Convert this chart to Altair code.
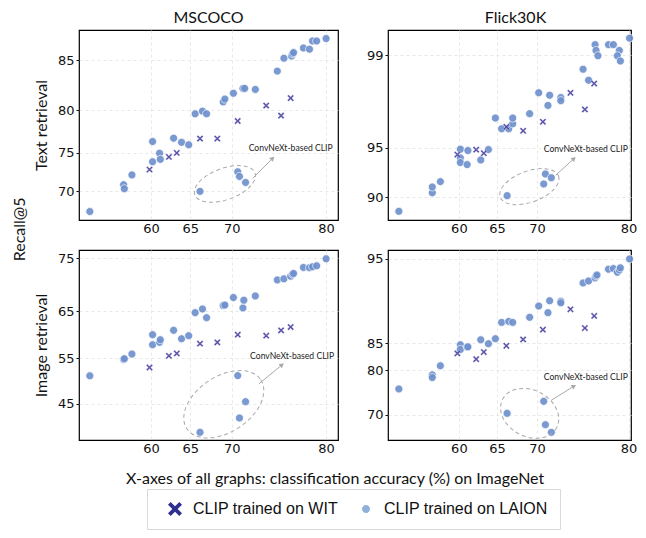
import altair as alt
import pandas as pd
from statistics import NormalDist

_nd = NormalDist()


def probit(pct):
    return _nd.inv_cdf(pct / 100.0)


# ---------------------------------------------------------------- data
SERIES = ["CLIP trained on WIT", "CLIP trained on LAION"]
COL_TITLES = ["MSCOCO", "Flick30K"]
ROW_TITLES = ["Text retrieval", "Image retrieval"]
X_TITLE = "X-axes of all graphs: classification accuracy (%) on ImageNet"
Y_TITLE = "Recall@5"
LABEL_TEXT = "ConvNeXt-based CLIP"

X_DOMAINS = [[50.45, 81.1], [50.3, 80.24]]          # left column, right column
X_TICKS = [60, 65, 70, 80]

# panel order: MSCOCO text, Flick30K text, MSCOCO image, Flick30K image
Y_DOMAINS = [[66.0, 87.6], [86.7, 99.40], [37.3, 76.45], [63.4, 95.6]]
Y_TICKS = [[70, 75, 80, 85], [90, 95, 99], [45, 55, 65, 75], [70, 80, 85, 95]]

WIT_X = [59.8, 62.3, 63.3, 66.2, 68.3, 70.7, 73.9, 75.5, 76.5]
WIT_Y_COCO_TEXT = [72.9, 74.5, 75.0, 76.75, 76.75, 78.8, 80.5, 79.4, 81.3]
WIT_Y_FLICKR_TEXT = [94.46, 94.85, 94.57, 96.4, 96.16, 96.68, 97.98, 97.3, 98.29]
WIT_Y_COCO_IMAGE = [52.98, 55.53, 56.04, 58.14, 58.43, 60.07, 59.86, 60.99, 61.69]
WIT_Y_FLICKR_IMAGE = [83.25, 82.19, 83.49, 84.58, 85.63, 87.16, 89.98, 87.41, 89.12]

LAION_X_COCO_TEXT = [51.9, 56.4, 56.5, 57.5, 60.2, 60.2, 61.1, 61.2, 62.9, 63.9, 64.8,
                     65.6, 66.5, 67.0, 66.2, 69.0, 69.2, 70.2, 71.3, 71.5, 72.7, 70.7,
                     70.9, 71.6, 75.1, 75.8, 76.6, 76.7, 76.8, 77.8, 78.4, 78.7, 79.1, 80.0]
LAION_Y_COCO_TEXT = [67.2, 70.9, 70.36, 72.2, 73.9, 76.4, 74.96, 74.2, 76.8, 76.3, 76.0,
                     79.6, 79.9, 79.6, 70.0, 80.9, 81.2, 81.8, 82.3, 82.3, 82.2, 72.6,
                     72.0, 71.2, 84.0, 85.2, 85.4, 85.6, 85.7, 86.1, 86.0, 86.7, 86.7, 86.9]

LAION_X_FLICKR_TEXT = [51.8, 56.4, 56.4, 57.5, 60.2, 60.2, 60.2, 61.1, 61.2, 62.9, 63.9,
                       64.8, 65.6, 66.5, 67.0, 67.0, 66.3, 69.1, 70.2, 71.3, 71.5, 72.8,
                       72.8, 70.8, 71.0, 71.7, 75.3, 75.9, 76.6, 76.7, 76.9, 78.0, 78.5,
                       79.1, 78.9, 79.2, 80.1]
LAION_Y_FLICKR_TEXT = [88.02, 90.55, 91.24, 91.85, 94.89, 94.18, 93.77, 93.58, 94.78, 94.0,
                       94.86, 96.88, 96.28, 96.28, 96.57, 96.88, 90.18, 97.1, 97.98, 97.48,
                       97.89, 97.8, 97.68, 91.58, 92.67, 92.27, 98.69, 98.39, 99.19, 99.09,
                       98.99, 99.19, 99.19, 99.09, 98.99, 98.88, 99.29]

LAION_X_COCO_IMAGE = [51.9, 56.4, 56.5, 57.5, 60.2, 60.2, 61.1, 61.2, 62.9, 63.9, 64.8,
                      65.6, 66.5, 67.0, 66.2, 69.0, 69.2, 70.2, 71.3, 71.4, 72.7, 70.7,
                      70.9, 71.6, 75.1, 75.8, 76.5, 76.7, 76.8, 77.8, 78.4, 78.7, 79.1, 80.0]
LAION_Y_COCO_IMAGE = [51.15, 54.74, 54.9, 55.9, 60.07, 57.93, 58.43, 59.0, 60.99, 59.2, 59.86,
                      64.67, 65.42, 63.64, 38.9, 66.1, 66.2, 67.7, 65.63, 67.17, 68.02, 51.2,
                      41.96, 45.5, 71.1, 71.3, 71.8, 72.17, 72.3, 73.4, 73.35, 73.52, 73.7, 74.94]

LAION_X_FLICKR_IMAGE = [51.8, 56.4, 56.4, 57.5, 60.2, 60.2, 61.1, 61.2, 62.9, 63.9, 64.8,
                        65.6, 66.5, 67.0, 66.3, 69.1, 70.2, 71.3, 71.5, 72.8, 72.8, 70.8,
                        71.0, 71.7, 75.3, 75.9, 76.6, 76.7, 76.8, 78.0, 78.5, 78.9, 79.1,
                        79.2, 80.1]
LAION_Y_FLICKR_IMAGE = [76.08, 79.1, 78.54, 80.93, 84.76, 83.94, 84.36, 84.4, 85.58, 84.93,
                        85.76, 88.23, 88.37, 88.23, 70.33, 88.93, 90.38, 89.55, 91.02, 90.95,
                        90.77, 73.24, 67.45, 65.44, 92.92, 93.11, 93.39, 93.57, 93.66, 94.16,
                        94.21, 93.9, 94.1, 94.27, 94.97]

WIT_Y = [WIT_Y_COCO_TEXT, WIT_Y_FLICKR_TEXT, WIT_Y_COCO_IMAGE, WIT_Y_FLICKR_IMAGE]
LAION_X = [LAION_X_COCO_TEXT, LAION_X_FLICKR_TEXT, LAION_X_COCO_IMAGE, LAION_X_FLICKR_IMAGE]
LAION_Y = [LAION_Y_COCO_TEXT, LAION_Y_FLICKR_TEXT, LAION_Y_COCO_IMAGE, LAION_Y_FLICKR_IMAGE]

# annotation anchors (data units: accuracy %, recall %)
ELLIPSE_CENTER = [[69.2, 71.0], [69.07, 91.28], [69.07, 44.93], [69.1, 70.33]]
ARROW_FROM = [[72.4, 71.74], [72.2, 92.53], [73.1, 49.39], [71.7, 73.5]]
ARROW_TO = [[74.6, 74.33], [74.3, 94.12], [75.6, 53.57], [74.3, 76.7]]
LABEL_AT = [[76.5, 75.6], [75.6, 94.89], [76.65, 55.39], [75.6, 78.6]]

# ---------------------------------------------------------------- styles
WIDTHS = [259, 243]
H = 190
WIT_FILL = "#4640a0"
LAION_FILL = "#6f91ce"
LEGEND_COLORS = ["#2f2f8f", "#8fb0d8"]
ANN_COLOR = "#a9a9a9"
# (semi-major px, semi-minor px, rotation deg) per panel
ELLIPSE_STYLE = [(32, 15.7, 340), (31, 15.5, 340), (44.3, 27.8, 326.5), (30.5, 23.2, 27.5)]
ARROW_HEAD_ANGLE = [45, 48, 50, 60]
FONT = "Lato"


def ellipse_path(r, s=1.0):
    k = 0.5523
    a, b = s, s * r
    pts = [a, 0, a, k * b, k * a, b, 0, b, -k * a, b, -a, k * b, -a, 0,
           -a, -k * b, -k * a, -b, 0, -b, k * a, -b, a, -k * b, a, 0]
    p = [f"{v:.4f}" for v in pts]
    return (f"M {p[0]} {p[1]} C {p[2]} {p[3]} {p[4]} {p[5]} {p[6]} {p[7]} "
            f"C {p[8]} {p[9]} {p[10]} {p[11]} {p[12]} {p[13]} "
            f"C {p[14]} {p[15]} {p[16]} {p[17]} {p[18]} {p[19]} "
            f"C {p[20]} {p[21]} {p[22]} {p[23]} {p[24]} {p[25]} Z")


X_PATH = ("M -1 -0.62 L -0.62 -1 L 0 -0.38 L 0.62 -1 L 1 -0.62 L 0.38 0 L 1 0.62 "
          "L 0.62 1 L 0 0.38 L -0.62 1 L -1 0.62 L -0.38 0 Z")
DOT_PATH = ellipse_path(1.0, 0.57)

LABEL_EXPR = "format(cumulativeNormal(datum.value) * 100, '.0f')"


def enc_x(col, field="px"):
    return alt.X(f"{field}:Q",
                 scale=alt.Scale(domain=[probit(v) for v in X_DOMAINS[col]], nice=False,
                                 zero=False),
                 axis=alt.Axis(values=[probit(v) for v in X_TICKS], labelExpr=LABEL_EXPR,
                               title=None))


def enc_y(i, ytitle, field="py"):
    return alt.Y(f"{field}:Q",
                 scale=alt.Scale(domain=[probit(v) for v in Y_DOMAINS[i]], nice=False, zero=False),
                 axis=alt.Axis(values=[probit(v) for v in Y_TICKS[i]], labelExpr=LABEL_EXPR,
                               title=ytitle))


def panel(i, ytitle=None, title=None, legend=False, title_dx=0):
    col = i % 2
    laion = pd.DataFrame({"acc": LAION_X[i], "recall": LAION_Y[i]})
    wit = pd.DataFrame({"acc": WIT_X, "recall": WIT_Y[i]})
    calc = dict(px="quantileNormal(datum.acc / 100)", py="quantileNormal(datum.recall / 100)")
    ex, ey = enc_x(col), enc_y(i, ytitle)

    laion_l = alt.Chart(laion).transform_calculate(**calc).mark_point(
        shape=DOT_PATH, filled=True, size=196, fill=LAION_FILL, opacity=0.92,
        stroke="white", strokeWidth=0.7).encode(x=ex, y=ey)
    wit_l = alt.Chart(wit).transform_calculate(**calc).mark_point(
        shape=X_PATH, filled=True, size=46, fill=WIT_FILL, opacity=0.9,
        stroke="white", strokeWidth=0.4).encode(x=ex, y=ey)

    a, b, ang = ELLIPSE_STYLE[i]
    ell = pd.DataFrame({"acc": [ELLIPSE_CENTER[i][0]], "recall": [ELLIPSE_CENTER[i][1]]})
    ell_l = alt.Chart(ell).transform_calculate(**calc).mark_point(
        shape=ellipse_path(b / a), size=(2 * a) ** 2, filled=False, stroke=ANN_COLOR,
        strokeWidth=1, strokeDash=[4, 3], angle=ang, opacity=1).encode(x=ex, y=ey)

    arr = pd.DataFrame({"acc": [ARROW_FROM[i][0]], "recall": [ARROW_FROM[i][1]],
                        "acc2": [ARROW_TO[i][0]], "recall2": [ARROW_TO[i][1]]})
    arr_l = alt.Chart(arr).transform_calculate(
        px="quantileNormal(datum.acc / 100)", py="quantileNormal(datum.recall / 100)",
        px2="quantileNormal(datum.acc2 / 100)", py2="quantileNormal(datum.recall2 / 100)",
    ).mark_rule(color=ANN_COLOR, strokeWidth=1).encode(x=ex, y=ey, x2="px2:Q", y2="py2:Q")
    head_l = alt.Chart(arr).transform_calculate(
        px="quantileNormal(datum.acc2 / 100)", py="quantileNormal(datum.recall2 / 100)",
    ).mark_point(shape="triangle-up", size=28, filled=True, fill=ANN_COLOR, opacity=1,
                 angle=ARROW_HEAD_ANGLE[i]).encode(x=ex, y=ey)

    lab = pd.DataFrame({"acc": [LABEL_AT[i][0]], "recall": [LABEL_AT[i][1]], "t": [LABEL_TEXT]})
    lab_l = alt.Chart(lab).transform_calculate(**calc).mark_text(
        font=FONT, fontSize=8.6, color="#222", align="center", baseline="middle").encode(
        x=ex, y=ey, text="t:N")

    layers = [laion_l, wit_l, ell_l, arr_l, head_l, lab_l]
    if legend:
        leg = alt.Chart(pd.DataFrame({"series": SERIES})).transform_filter("false").mark_point(
            filled=True, opacity=1).encode(
            color=alt.Color("series:N", sort=SERIES,
                            scale=alt.Scale(domain=SERIES, range=LEGEND_COLORS),
                            legend=alt.Legend(title=None)),
            shape=alt.Shape("series:N", sort=SERIES,
                            scale=alt.Scale(domain=SERIES, range=[X_PATH, DOT_PATH]),
                            legend=alt.Legend(title=None)))
        layers.append(leg)
    ch = alt.layer(*layers).properties(width=WIDTHS[col], height=H)
    if title:
        ch = ch.properties(title=alt.TitleParams(title, font=FONT, fontSize=16, dx=title_dx,
                                                 fontWeight="normal", color="#111", offset=4))
    return ch


tl = panel(0, ytitle=ROW_TITLES[0], title=COL_TITLES[0], legend=True)
tr = panel(1, title=COL_TITLES[1], title_dx=6)
bl = panel(2, ytitle=ROW_TITLES[1])
br = panel(3)

row1 = alt.hconcat(tl, tr, spacing=26).resolve_scale(x="independent", y="independent")
row2 = alt.hconcat(bl, br, spacing=26,
                   title=alt.TitleParams(X_TITLE, orient="bottom", anchor="middle", font=FONT,
                                         fontSize=16, fontWeight="normal", color="#111",
                                         offset=15)).resolve_scale(x="independent",
                                                                   y="independent")

chart = alt.vconcat(row1, row2, spacing=13,
                    title=alt.TitleParams(Y_TITLE, orient="left", anchor="middle", font=FONT,
                                          fontSize=16, fontWeight="normal", color="#111",
                                          offset=5, dx=40)).resolve_scale(
    x="independent", y="independent").properties(
    padding={"left": 3, "top": 1, "right": 0, "bottom": 0}
).configure_view(stroke="black", strokeWidth=1.2).configure_axis(
    domain=False, grid=True, gridColor="#e2e2e2", gridDash=[3, 3], gridWidth=0.8,
    labelFont="DejaVu Sans", labelFontSize=13, labelColor="#111", tickColor="#111",
    tickSize=3, titleFont=FONT, titleFontSize=16, titleFontWeight="normal",
    titleColor="#111", titlePadding=8, labelPadding=2
).configure_axisX(ticks=False, labelPadding=2).configure_legend(
    orient="none", legendX=68, legendY=459, direction="horizontal",
    labelFont="Liberation Sans", labelFontSize=16, labelLimit=0,
    labelColor="#111", symbolSize=196, strokeColor="#d9d9d9", padding=12, columnPadding=12,
    labelOffset=10, symbolOffset=8, symbolStrokeWidth=0
)

chart.save("out.html", embed_options={"renderer": "svg", "actions": False})
